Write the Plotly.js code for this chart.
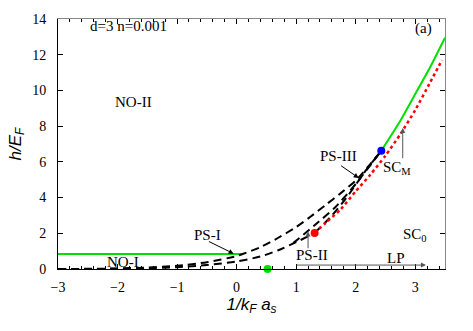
<!DOCTYPE html>
<html><head><meta charset="utf-8">
<script src="https://cdn.plot.ly/plotly-3.0.1.min.js"></script>
<style>html,body{margin:0;padding:0;background:#fff}#plot{width:473px;height:331px}</style>
</head><body><div id="plot"></div>
<script>
// NO-I / NO-II boundary (green, low field)
const greenLowX = [-3, 0.1];
const greenLowH = [0.84, 0.84];
// upper PS boundary (dashed)
const upperX = [-3, -2.5, -2, -1.5, -1, -0.5, 0, 0.1, 0.4, 0.7, 1.0, 1.25, 1.5, 1.75, 2.0, 2.2, 2.43];
const upperH = [0.0, 0.01, 0.03, 0.08, 0.18, 0.38, 0.72, 0.84, 1.22, 1.75, 2.35, 2.95, 3.6, 4.25, 4.95, 5.7, 6.62];
// lower PS boundary (dashed)
const lowerX = [-3, -2, -1.5, -1, -0.5, 0, 0.4, 0.7, 1.0, 1.31];
const lowerH = [0.0, 0.01, 0.04, 0.1, 0.22, 0.42, 0.7, 1.05, 1.5, 2.02];
// inner PS boundaries (dashed)
const midX = [0.95, 1.31, 1.67, 2.01, 2.43];
const midH = [1.45, 2.45, 3.5, 4.8, 6.62];
const innerX = [1.31, 1.59, 1.84, 2.18, 2.43];
const innerH = [2.02, 2.95, 3.97, 5.56, 6.62];
// SC0 / SCM boundary (red dotted)
const redX = [1.31, 1.5, 1.75, 2.0, 2.25, 2.5, 2.75, 3.0, 3.25, 3.45];
const redH = [2.02, 2.6, 3.35, 4.35, 5.3, 6.35, 7.55, 8.9, 10.45, 11.7];
// SCM / NO boundary (green, high field)
const greenHighX = [2.43, 2.75, 3.0, 3.25, 3.5];
const greenHighH = [6.62, 8.3, 9.8, 11.3, 12.95];
// special points
const pointX = [1.31, 2.43, 0.52];
const pointH = [2.02, 6.62, 0.0];
const pointColors = ['#ff0000', '#0000ff', '#00e000'];
// labels
const labelText = ['NO-II', 'NO-I', 'PS-I', 'PS-II', 'PS-III', 'SC<sub>0</sub>', 'SC<sub>M</sub>', 'LP', 'd=3 n=0.001', '(a)'];
const labelX = [-1.73, -1.9, -0.49, 1.26, 1.71, 3.0, 2.7, 2.67, -1.81, 3.14];
const labelH = [9.37, 0.42, 1.92, 0.8, 6.35, 1.92, 5.66, 0.63, 13.6, 13.45];
// arrows: tail -> head
const arrowTailX = [-0.49, 1.2, 1.73, 2.79, 0.98];
const arrowTailH = [1.58, 1.08, 5.84, 6.12, 0.22];
const arrowHeadX = [-0.05, 1.2, 2.05, 2.79, 3.18];
const arrowHeadH = [0.86, 2.1, 5.1, 7.9, 0.22];
const arrowColors = ['#000', '#555', '#000', '#555', '#555'];

const dashStyle = '8px,5px';
const traces = [
  {x: greenLowX, y: greenLowH, mode: 'lines', line: {color: '#00e000', width: 2}},
  {x: upperX, y: upperH, mode: 'lines', line: {color: '#000', width: 2, dash: dashStyle, shape: 'spline', smoothing: 0.6}},
  {x: lowerX, y: lowerH, mode: 'lines', line: {color: '#000', width: 2, dash: dashStyle, shape: 'spline', smoothing: 0.6}},
  {x: midX, y: midH, mode: 'lines', line: {color: '#000', width: 2, dash: dashStyle, shape: 'spline', smoothing: 0.6}},
  {x: innerX, y: innerH, mode: 'lines', line: {color: '#000', width: 2, dash: dashStyle, shape: 'spline', smoothing: 0.6}},
  {x: redX, y: redH, mode: 'lines', line: {color: '#ff0000', width: 2.5, dash: 'dot', shape: 'spline', smoothing: 0.6}},
  {x: greenHighX, y: greenHighH, mode: 'lines', line: {color: '#00e000', width: 2, shape: 'spline', smoothing: 0.6}},
  {x: pointX, y: pointH, mode: 'markers', marker: {color: pointColors, size: 8}, cliponaxis: false},
  {x: [], y: [], xaxis: 'x2', yaxis: 'y2', mode: 'markers'}
];

const annotations = [];
for (let i = 0; i < labelText.length; i++) {
  annotations.push({x: labelX[i], y: labelH[i], xref: 'x', yref: 'y', text: labelText[i], showarrow: false,
    font: {family: 'Liberation Serif', size: 15, color: '#000'}});
}
for (let i = 0; i < arrowTailX.length; i++) {
  annotations.push({x: arrowHeadX[i], y: arrowHeadH[i], ax: arrowTailX[i], ay: arrowTailH[i],
    xref: 'x', yref: 'y', axref: 'x', ayref: 'y', text: '', showarrow: true,
    arrowhead: 2, arrowsize: 1, arrowwidth: 1, arrowcolor: arrowColors[i]});
}

const layout = {
  width: 473, height: 331,
  margin: {l: 58, r: 28, t: 19, b: 62},
  paper_bgcolor: '#fff', plot_bgcolor: '#fff',
  showlegend: false,
  font: {family: 'Liberation Serif', size: 14, color: '#000'},
  xaxis: {range: [-3, 3.5], dtick: 1, tick0: -3, ticks: 'inside', ticklen: 5, tickcolor: '#000',
    showgrid: false, zeroline: false, showline: true, linecolor: '#000', linewidth: 1,
    tickfont: {family: 'Liberation Serif', size: 14, color: '#000'}, ticklabelstandoff: 5,
    minor: {dtick: 0.2, ticks: 'inside', ticklen: 3, tickcolor: '#000', showgrid: false},
    title: {text: '<i>1/k<sub>F</sub> a<sub>s</sub></i>', font: {family: 'Liberation Sans', size: 17, color: '#000'}, standoff: 2}},
  yaxis: {range: [0, 14], dtick: 2, ticks: 'inside', ticklen: 5, tickcolor: '#000',
    showgrid: false, zeroline: false, showline: true, linecolor: '#000', linewidth: 1,
    tickfont: {family: 'Liberation Serif', size: 14, color: '#000'}, ticklabelstandoff: 8,
    title: {text: '<i>h/E<sub>F</sub></i>', font: {family: 'Liberation Sans', size: 17, color: '#000'}, standoff: 6}},
  xaxis2: {overlaying: 'x', matches: 'x', side: 'top', anchor: 'y2', range: [-3, 3.5], dtick: 1, tick0: -3,
    ticks: 'inside', ticklen: 5, tickcolor: '#000', showticklabels: false, showgrid: false, zeroline: false,
    showline: true, linecolor: '#888', linewidth: 1,
    minor: {dtick: 0.2, ticks: 'inside', ticklen: 3, tickcolor: '#000', showgrid: false}},
  yaxis2: {overlaying: 'y', matches: 'y', side: 'right', anchor: 'x2', range: [0, 14], dtick: 2,
    ticks: 'inside', ticklen: 5, tickcolor: '#000', showticklabels: false, showgrid: false, zeroline: false,
    showline: true, linecolor: '#888', linewidth: 1},
  annotations: annotations
};
Plotly.newPlot('plot', traces, layout, {displayModeBar: false, staticPlot: true});
</script></body></html>
